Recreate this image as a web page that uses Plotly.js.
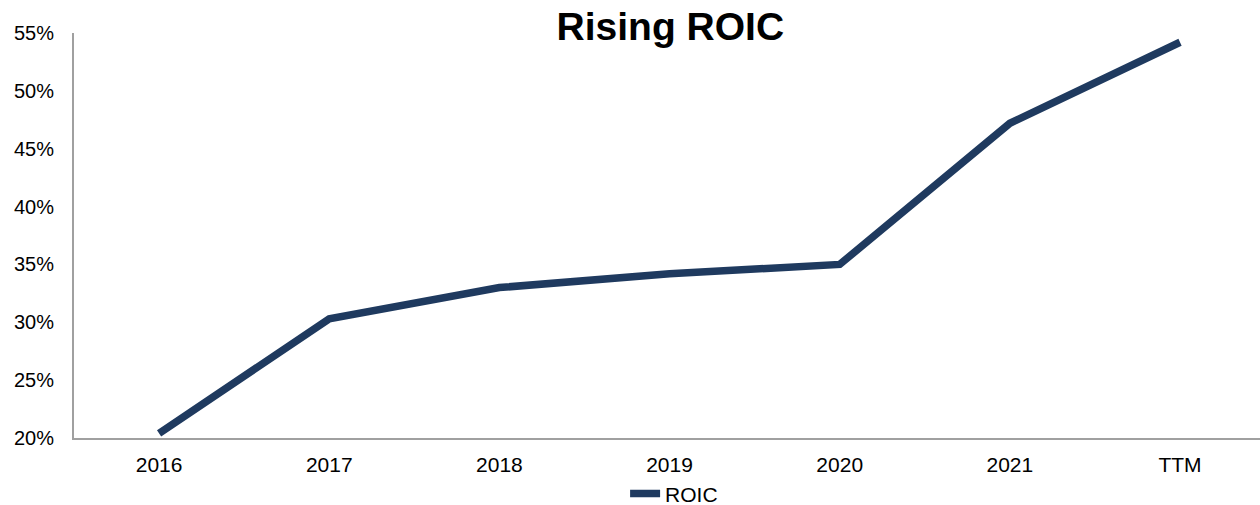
<!DOCTYPE html>
<html>
<head>
<meta charset="utf-8">
<script src="https://cdn.plot.ly/plotly-3.0.1.min.js"></script>
<style>html,body{margin:0;padding:0;background:#fff;}#chart{width:1260px;height:505px;}</style>
</head>
<body>
<div id="chart"></div>
<script>
const categories = ["2016", "2017", "2018", "2019", "2020", "2021", "TTM"];
const roic = [0.204, 0.303, 0.330, 0.342, 0.350, 0.472, 0.542];
const yTicks = [0.20, 0.25, 0.30, 0.35, 0.40, 0.45, 0.50, 0.55];

const trace = {
  x: categories,
  y: roic,
  type: "scatter",
  mode: "lines",
  name: "ROIC",
  line: {color: "#1f3a5f", width: 7.5}
};

const layout = {
  width: 1260,
  height: 505,
  margin: {l: 74, r: 0, t: 33, b: 67},
  paper_bgcolor: "#fff",
  plot_bgcolor: "#fff",
  font: {family: "Liberation Sans, Arial, sans-serif", size: 20, color: "#000"},
  title: {text: "<b>Rising ROIC</b>", x: 0.532, xanchor: "center", y: 0.947, yanchor: "middle", font: {size: 39, color: "#000"}},
  xaxis: {
    type: "category",
    range: [-0.5, 6.47],
    showgrid: false,
    showline: true,
    linecolor: "#a0a0a0",
    linewidth: 2,
    ticks: "",
    ticklabelstandoff: 7,
    tickfont: {size: 21},
    zeroline: false,
    fixedrange: true
  },
  yaxis: {
    range: [0.20, 0.55],
    tickvals: yTicks,
    tickformat: ".0%",
    showgrid: false,
    showline: true,
    linecolor: "#a0a0a0",
    linewidth: 2,
    ticks: "",
    ticklabelstandoff: 14,
    zeroline: false,
    fixedrange: true
  },
  showlegend: true,
  legend: {orientation: "h", x: 0.535, xref: "container", xanchor: "center", y: 0.022, yref: "container", yanchor: "middle", bgcolor: "rgba(0,0,0,0)", font: {size: 21}}
};

Plotly.newPlot("chart", [trace], layout, {displayModeBar: false, staticPlot: true});
</script>
</body>
</html>
